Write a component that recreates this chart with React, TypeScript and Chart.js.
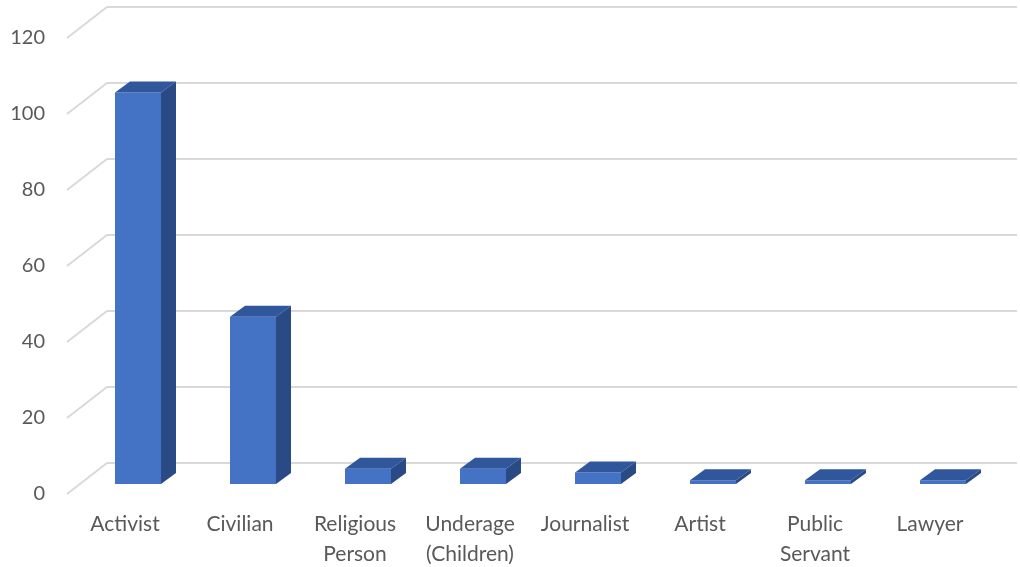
import React, { useEffect, useRef } from "react";
import { Chart, registerables } from "chart.js";

Chart.register(...registerables);

const categories: (string | string[])[] = [
  "Activist",
  "Civilian",
  ["Religious", "Person"],
  ["Underage", "(Children)"],
  "Journalist",
  "Artist",
  ["Public", "Servant"],
  "Lawyer",
];
const counts: number[] = [103, 44, 4, 4, 3, 1, 1, 1];
const yTicks: number[] = [0, 20, 40, 60, 80, 100, 120];

const FRONT = "#4472C4";
const TOP = "#30579C";
const SIDE = "#294A85";
const GRID = "#D9D9D9";
const TEXT = "#595959";
const FONT = "Lato, 'Open Sans', sans-serif";

const BAR_DX = 15;
const BAR_DY = -11;
const WALL_FRONT_DX = -13.5;
const WALL_FRONT_DY = 10;
const WALL_BACK_DX = 26.5;
const WALL_BACK_DY = -21;
const GRID_RIGHT = 1017;

const threeD = {
  id: "threeD",
  beforeDatasetsDraw(chart: any) {
    const ctx = chart.ctx;
    const ys = chart.scales.y;
    const left = chart.chartArea.left;
    ctx.save();
    ctx.strokeStyle = GRID;
    ctx.lineWidth = 2;
    for (const v of yTicks) {
      const y = ys.getPixelForValue(v);
      ctx.beginPath();
      ctx.moveTo(left + WALL_FRONT_DX, y + WALL_FRONT_DY);
      ctx.lineTo(left + WALL_BACK_DX, y + WALL_BACK_DY);
      ctx.lineTo(GRID_RIGHT, y + WALL_BACK_DY);
      ctx.stroke();
    }
    ctx.restore();
  },
  afterDatasetsDraw(chart: any) {
    const ctx = chart.ctx;
    const meta = chart.getDatasetMeta(0);
    ctx.save();
    meta.data.forEach((el: any) => {
      const p = el.getProps(["x", "y", "base", "width"], true);
      const L = p.x - p.width / 2;
      const R = p.x + p.width / 2;
      const top = p.y;
      const base = p.base;
      ctx.fillStyle = TOP;
      ctx.beginPath();
      ctx.moveTo(L, top);
      ctx.lineTo(R, top);
      ctx.lineTo(R + BAR_DX, top + BAR_DY);
      ctx.lineTo(L + BAR_DX, top + BAR_DY);
      ctx.closePath();
      ctx.fill();
      ctx.fillStyle = SIDE;
      ctx.beginPath();
      ctx.moveTo(R, top);
      ctx.lineTo(R + BAR_DX, top + BAR_DY);
      ctx.lineTo(R + BAR_DX, base + BAR_DY);
      ctx.lineTo(R, base);
      ctx.closePath();
      ctx.fill();
    });
    ctx.restore();
  },
};

export default function App() {
  const ref = useRef<HTMLCanvasElement | null>(null);
  useEffect(() => {
    if (!ref.current) return;
    const chart = new Chart(ref.current, {
      type: "bar",
      data: {
        labels: categories as any,
        datasets: [
          {
            data: counts,
            backgroundColor: FRONT,
            borderWidth: 0,
            barPercentage: 0.4,
            categoryPercentage: 1,
          },
        ],
      },
      options: {
        animation: false,
        responsive: false,
        devicePixelRatio: 1,
        layout: { padding: { top: 28, right: 19.5, left: 0, bottom: 0 } },
        plugins: {
          legend: { display: false },
          tooltip: { enabled: false },
          title: { display: false },
        },
        scales: {
          x: {
            offset: true,
            grid: { display: false, drawTicks: false },
            border: { display: false },
            ticks: {
              color: TEXT,
              font: { family: FONT, size: 21, lineHeight: 1.4 },
              padding: 26,
              labelOffset: -13,
              autoSkip: false,
              maxRotation: 0,
              minRotation: 0,
            },
            afterFit: (s: any) => {
              s.height = 83;
              s.paddingLeft = 0;
              s.paddingRight = 0;
            },
          },
          y: {
            min: 0,
            max: 120,
            grid: { display: false, drawTicks: false },
            border: { display: false },
            ticks: {
              stepSize: 20,
              color: TEXT,
              font: { family: FONT, size: 20 },
              padding: 35.5,
              labelOffset: 10,
            },
            afterFit: (s: any) => {
              s.width = 80.5;
              s.paddingTop = 0;
              s.paddingBottom = 0;
            },
          },
        },
      },
      plugins: [threeD],
    });
    return () => chart.destroy();
  }, []);
  return (
    <div style={{ position: "absolute", left: 0, top: 0, width: 1020, height: 567, background: "#fff" }}>
      <canvas ref={ref} width={1020} height={567} />
    </div>
  );
}
